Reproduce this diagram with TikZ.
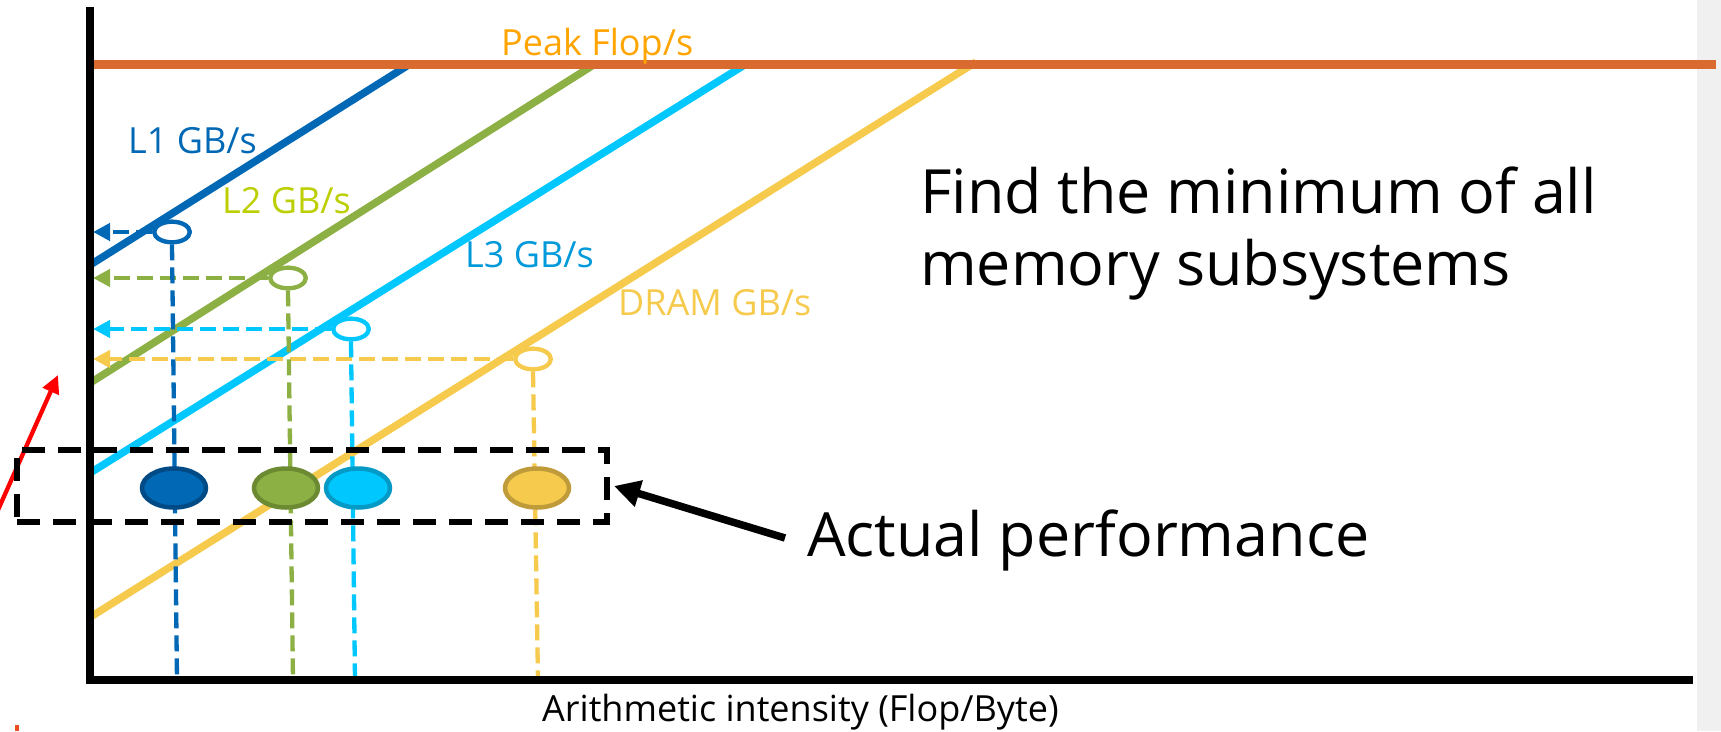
\documentclass[tikz,border=0pt]{standalone}
\usepackage{fontspec}
\setmainfont{Open Sans}
\usetikzlibrary{arrows.meta,shapes.geometric}
\definecolor{cLone}{HTML}{0068B5}
\definecolor{cLoneD}{HTML}{004A85}
\definecolor{cLtwo}{HTML}{8DB045}
\definecolor{cLtwoD}{HTML}{6B8A32}
\definecolor{cLtwoT}{HTML}{BCCF02}
\definecolor{cLthree}{HTML}{00C7FD}
\definecolor{cLthreeD}{HTML}{0599C5}
\definecolor{cLthreeT}{HTML}{0099DA}
\definecolor{cDram}{HTML}{F5CA4D}
\definecolor{cDramD}{HTML}{BF9B3A}
\definecolor{cPeak}{HTML}{D96A30}
\definecolor{cPeakT}{HTML}{FFA400}
\definecolor{cStrip}{HTML}{F0F0F0}
\definecolor{cRedMark}{HTML}{E8501A}
\begin{document}
\begin{tikzpicture}[x=1pt,y=-1pt,
  roof/.style={line width=7.5pt},
  dline/.style={line width=4.3pt, dash pattern=on 16pt off 7pt},
  darrow/.style={dline, -{Triangle[length=17pt,width=17pt]}},
  opencirc/.style={ellipse, draw, fill=white, line width=4.2pt, minimum width=35.5pt, minimum height=20.5pt, inner sep=0pt},
  fillcirc/.style={ellipse, line width=4.5pt, minimum width=64pt, minimum height=39pt, inner sep=0pt},
  lab/.style={font=\fontsize{36}{43}\selectfont, inner sep=0pt, anchor=base west},
  biglab/.style={font=\fontsize{61}{73}\selectfont, inner sep=0pt, anchor=base west},
  axisline/.style={line width=7.5pt, black}
]
\useasboundingbox (0,0) rectangle (1721,731);
\clip (0,0) rectangle (1721,731);
\fill[cStrip] (1697,0) rectangle (1721,731);

% red arrow and mark at the left edge
\coordinate (rtail) at (-6,519);
\coordinate (rtip) at (58,375);
\draw[red, line width=4.3pt, -{Triangle[length=18pt,width=17pt]}] (rtail) -- (rtip);
\fill[cRedMark] (15,725) rectangle (19,731);

% roof lines
\coordinate (l1s) at (90,265); \coordinate (l1e) at (410,64);
\coordinate (l2s) at (90,383); \coordinate (l2e) at (595,64);
\coordinate (l3s) at (90,473); \coordinate (l3e) at (746,64);
\coordinate (l4s) at (92,616); \coordinate (l4e) at (976,62);
\draw[roof, cLone] (l1s) -- (l1e);
\draw[roof, cLtwo] (l2s) -- (l2e);
\draw[roof, cLthree] (l3s) -- (l3e);
\draw[roof, cDram] (l4s) -- (l4e);

% peak line
\coordinate (pks) at (90,64); \coordinate (pke) at (1716,64);
\draw[line width=9pt, cPeak] (pks) -- (pke);

% labels
\node[lab, text=cPeakT] (peak) at (501,55) {Peak Flop/s};
\node[lab, text=cLone] (t1) at (128,153) {L1 GB/s};
\node[lab, text=cLtwoT] (t2) at (222,213) {L2 GB/s};
\node[lab, text=cLthreeT] (t3) at (465,267) {L3 GB/s};
\node[lab, text=cDram] (t4) at (618,315) {DRAM GB/s};

% open circles
\node[opencirc, draw=cLone] (o1) at (172,232) {};
\node[opencirc, draw=cLtwo] (o2) at (288,278) {};
\node[opencirc, draw=cLthree] (o3) at (351,329) {};
\node[opencirc, draw=cDram] (o4) at (533,359) {};

% axis end points for the dashed lines
\coordinate (a1) at (93,232);
\coordinate (a2) at (93,278);
\coordinate (a3) at (93,329);
\coordinate (a4) at (93,359);
\coordinate (b1) at (177,680);
\coordinate (b2) at (293,680);
\coordinate (b3) at (355,680);
\coordinate (b4) at (538,680);

\draw[darrow, cLone] (o1.west) -- (a1);
\draw[darrow, cLtwo] (o2.west) -- (a2);
\draw[darrow, cLthree] (o3.west) -- (a3);
\draw[darrow, cDram] (o4.west) -- (a4);
\draw[dline, cLone] (o1.south) -- (b1);
\draw[dline, cLtwo] (o2.south) -- (b2);
\draw[dline, cLthree] (o3.south) -- (b3);
\draw[dline, cDram] (o4.south) -- (b4);

% redraw open circles on top
\node[opencirc, draw=cLone] at (o1) {};
\node[opencirc, draw=cLtwo] at (o2) {};
\node[opencirc, draw=cLthree] at (o3) {};
\node[opencirc, draw=cDram] at (o4) {};

% dashed box
\node[draw=black, line width=6pt, dash pattern=on 23pt off 13pt, minimum width=590pt, minimum height=72pt, inner sep=0pt] (box) at (312,486) {};

% actual performance ellipses
\node[fillcirc, fill=cLone, draw=cLoneD] (f1) at (174,488) {};
\node[fillcirc, fill=cLtwo, draw=cLtwoD] (f2) at (286,488) {};
\node[fillcirc, fill=cLthree, draw=cLthreeD] (f3) at (358,488) {};
\node[fillcirc, fill=cDram, draw=cDramD] (f4) at (537,488) {};

% axes
\coordinate (ytop) at (90,7);
\coordinate (orig) at (90,680);
\coordinate (xend) at (1693,680);
\draw[axisline, line join=miter] (ytop) -- (orig) -- (xend);

% texts
\node[biglab] (find1) at (920,213) {Find the minimum of all};
\node[biglab] (find2) at (920,285) {memory subsystems};
\node[biglab] (act) at (807,556) {Actual performance};
\node[lab] (xlab) at (542,721) {Arithmetic intensity (Flop/Byte)};

% black arrow
\coordinate (atail) at (785,538);
\draw[black, line width=7.5pt, -{Triangle[length=26pt,width=26pt]}] (atail) -- ([xshift=4pt]box.east);
\end{tikzpicture}
\end{document}
